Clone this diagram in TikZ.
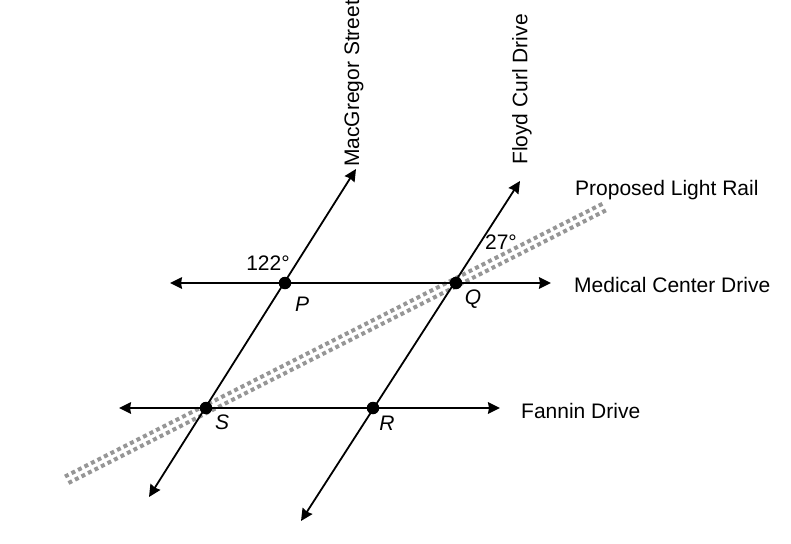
\documentclass[tikz,border=0pt]{standalone}
\usepackage{fontspec}
\setmainfont{Liberation Sans}
\usetikzlibrary{arrows.meta}
\definecolor{railgray}{RGB}{150,150,150}
\tikzset{
  road/.style={draw=black,line width=1.8pt,{Stealth[length=12pt,width=11.5pt,inset=1pt]}-{Stealth[length=12pt,width=11.5pt,inset=1pt]}},
  rail/.style={draw=railgray,line width=4pt,dash pattern=on 4pt off 3.3pt},
  pt/.style={circle,fill=black,inner sep=0pt,minimum size=12.5pt},
  lab/.style={inner sep=0pt,font=\fontsize{21}{24}\selectfont},
  leftlab/.style={lab,anchor=west},
  vlab/.style={lab,anchor=west,rotate=90}
}
\begin{document}
\begin{tikzpicture}[x=1pt,y=-1pt]
\useasboundingbox (0,0) rectangle (791,543);
\coordinate (ra1) at (65,476.5);
\coordinate (ra2) at (604,203);
\coordinate (rb1) at (68.5,483);
\coordinate (rb2) at (607.5,209.5);
\draw[rail] (ra1) -- (ra2);
\draw[rail] (rb1) -- (rb2);
\coordinate (m1) at (170,283);
\coordinate (m2) at (551,283);
\coordinate (f1) at (119,408);
\coordinate (f2) at (500,408);
\coordinate (g1) at (149,497);
\coordinate (g2) at (356,169);
\coordinate (c1) at (301,521);
\coordinate (c2) at (520,181);
\draw[road] (m1) -- (m2);
\draw[road] (f1) -- (f2);
\draw[road] (g1) -- (g2);
\draw[road] (c1) -- (c2);
\node[pt] (P) at (285,283) {};
\node[pt] (Q) at (456,283) {};
\node[pt] (S) at (206,408) {};
\node[pt] (R) at (373,408) {};
\node[lab] (lp) at (302,304) {\itshape P};
\node[lab] (lq) at (473,299) {\itshape Q};
\node[lab] (ls) at (222,422) {\itshape S};
\node[lab] (lr) at (387,423) {\itshape R};
\node[lab] (a1) at (268,263) {122°};
\node[lab] (a2) at (501,242) {27°};
\node[leftlab] (t1) at (575,190) {Proposed Light Rail};
\node[leftlab] (t2) at (574,285) {Medical Center Drive};
\node[leftlab] (t3) at (521,411) {Fannin Drive};
\node[vlab] (t4) at (354,167) {MacGregor Street};
\node[vlab] (t5) at (522,165) {Floyd Curl Drive};
\end{tikzpicture}
\end{document}
